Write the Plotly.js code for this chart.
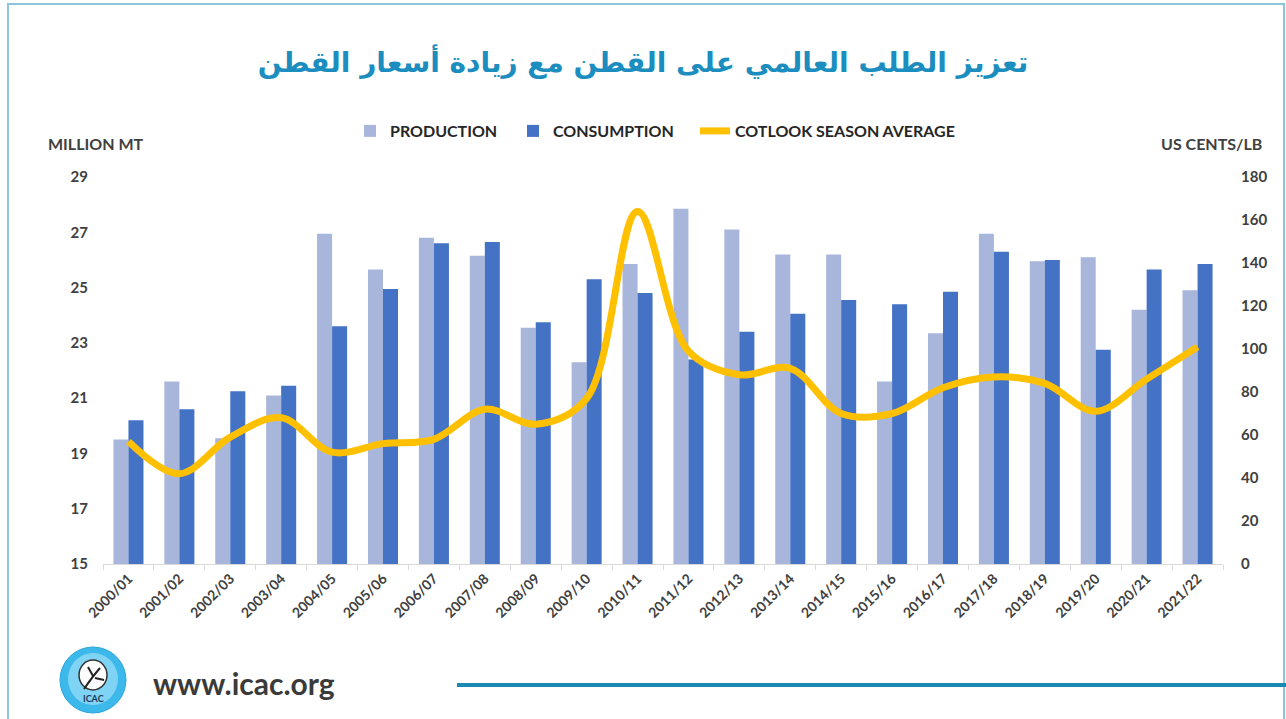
<!DOCTYPE html>
<html>
<head>
<meta charset="utf-8">
<script src="https://cdn.plot.ly/plotly-3.0.1.min.js"></script>
<style>
  html, body { margin: 0; padding: 0; background: #ffffff; }
  #chart { width: 1286px; height: 719px; }
</style>
</head>
<body>
<div id="chart"></div>
<script>
// ---- data ----
const seasons = ["2000/01","2001/02","2002/03","2003/04","2004/05","2005/06","2006/07","2007/08","2008/09","2009/10","2010/11","2011/12","2012/13","2013/14","2014/15","2015/16","2016/17","2017/18","2018/19","2019/20","2020/21","2021/22"];
const production = [19.5, 21.6, 19.55, 21.1, 26.95, 25.65, 26.8, 26.15, 23.55, 22.3, 25.85, 27.85, 27.1, 26.2, 26.2, 21.6, 23.35, 26.95, 25.95, 26.1, 24.2, 24.9];
const consumption = [20.2, 20.6, 21.25, 21.45, 23.6, 24.95, 26.6, 26.65, 23.75, 25.3, 24.8, 22.4, 23.4, 24.05, 24.55, 24.4, 24.85, 26.3, 26.0, 22.75, 25.65, 25.85];
const cotlook = [57, 42, 59, 68, 52, 56, 58, 72, 65, 77, 164, 99, 88, 91, 70, 70, 82, 87, 84, 71, 86, 101];
const seriesNames = ["PRODUCTION", "CONSUMPTION", "COTLOOK SEASON AVERAGE"];
const titleText = "تعزيز الطلب العالمي على القطن مع زيادة أسعار القطن";
const leftAxisTitle = "MILLION MT";
const rightAxisTitle = "US CENTS/LB";
const siteText = "www.icac.org";

// ---- layout helpers (pixel -> paper) ----
const W = 1286, H = 719;
const M = { l: 103, r: 63, t: 177, b: 155 };
const PW = W - M.l - M.r, PH = H - M.t - M.b;
const px = x => (x - M.l) / PW;
const py = y => (H - M.b - y) / PH;

const FONT = "Lato, 'Open Sans', sans-serif";
const yTickFont = { family: FONT, size: 15, color: "#404040", weight: "bold" };
const xTickFont = { family: FONT, size: 14, color: "#404040", weight: "bold" };
const legendFont = { family: FONT, size: 16, color: "#262626", weight: "bold" };

const traces = [
  {
    type: "bar", name: seriesNames[0], x: seasons, y: production,
    marker: { color: "#A9B6DB" }, yaxis: "y", legend: "legend"
  },
  {
    type: "bar", name: seriesNames[1], x: seasons, y: consumption,
    marker: { color: "#4472C4" }, yaxis: "y", legend: "legend2"
  },
  {
    type: "scatter", mode: "lines", name: seriesNames[2], x: seasons, y: cotlook,
    line: { color: "#FFC000", width: 7, shape: "spline", smoothing: 1 }, yaxis: "y2", legend: "legend3"
  }
];

function legendAt(xpix) {
  return {
    orientation: "h",
    x: px(xpix), xanchor: "left",
    y: py(131), yanchor: "middle",
    font: legendFont,
    bgcolor: "rgba(0,0,0,0)",
    itemwidth: 30
  };
}

const layout = {
  width: W, height: H,
  margin: M,
  paper_bgcolor: "#ffffff",
  plot_bgcolor: "rgba(0,0,0,0)",
  barmode: "group",
  bargap: 0.41,
  bargroupgap: 0,
  showlegend: true,
  title: {
    text: titleText,
    font: { family: "'DejaVu Sans', sans-serif", size: 28, color: "#1B8DBE", weight: "bold" },
    x: 0.5, xref: "container", xanchor: "center",
    y: 1 - 62 / H, yref: "container", yanchor: "middle"
  },
  legend: legendAt(350),
  legend2: legendAt(513),
  legend3: legendAt(695),
  xaxis: {
    type: "category",
    tickangle: -45,
    tickfont: xTickFont,
    showgrid: false,
    showline: true, linecolor: "#D9D9D9", linewidth: 1,
    ticks: "outside", tickson: "boundaries", ticklen: 5, tickcolor: "#D9D9D9",
    zeroline: false,
    fixedrange: true
  },
  yaxis: {
    range: [15, 29], dtick: 2, tick0: 15,
    showgrid: false, zeroline: false, showline: false,
    tickfont: yTickFont, ticks: "", ticklabelstandoff: 14,
    fixedrange: true
  },
  yaxis2: {
    overlaying: "y", side: "right",
    range: [0, 180], dtick: 20, tick0: 0,
    showgrid: false, zeroline: false, showline: false,
    tickfont: yTickFont, ticks: "", ticklabelstandoff: 17,
    fixedrange: true
  },
  annotations: [
    { text: leftAxisTitle, xref: "paper", yref: "paper", x: px(95), y: py(143),
      xanchor: "center", yanchor: "middle", showarrow: false,
      font: { family: FONT, size: 16, color: "#404040", weight: "bold" } },
    { text: rightAxisTitle, xref: "paper", yref: "paper", x: px(1211), y: py(143),
      xanchor: "center", yanchor: "middle", showarrow: false,
      font: { family: FONT, size: 16, color: "#404040", weight: "bold" } },
    { text: siteText, xref: "paper", yref: "paper", x: px(151), y: py(683),
      xanchor: "left", yanchor: "middle", showarrow: false,
      font: { family: FONT, size: 30, color: "#3A3A3A", weight: "bold" } },
    { text: "ICAC", xref: "paper", yref: "paper", x: px(93), y: py(698),
      xanchor: "center", yanchor: "middle", showarrow: false,
      font: { family: FONT, size: 9, color: "#1F3A5A", weight: "bold" } }
  ],
  shapes: [
    // outer frame
    { type: "rect", xref: "paper", yref: "paper",
      x0: px(8), x1: px(1284), y0: py(722), y1: py(4),
      line: { color: "#8CC6DC", width: 2 }, fillcolor: "rgba(0,0,0,0)", layer: "below" },
    // bottom teal rule
    { type: "line", xref: "paper", yref: "paper",
      x0: px(457), x1: px(1290), y0: py(685), y1: py(685),
      line: { color: "#1A8AB2", width: 4 } },
    // logo circle
    { type: "circle", xref: "paper", yref: "paper",
      x0: px(60), x1: px(126), y0: py(713), y1: py(647),
      fillcolor: "#3DB8EA", line: { color: "#2AA6DA", width: 1 } },
    { type: "circle", xref: "paper", yref: "paper",
      x0: px(68), x1: px(118), y0: py(705), y1: py(653),
      fillcolor: "#7FD3F4", line: { width: 0 } },
    // cotton boll
    { type: "circle", xref: "paper", yref: "paper",
      x0: px(79), x1: px(107), y0: py(690), y1: py(660),
      fillcolor: "#FFFFFF", line: { color: "#333333", width: 1.5 } },
    { type: "path", xref: "paper", yref: "paper",
      path: `M ${px(84)} ${py(689)} Q ${px(93)} ${py(676)} ${px(100)} ${py(668)} M ${px(93)} ${py(676)} L ${px(88)} ${py(667)} M ${px(95)} ${py(678)} L ${px(104)} ${py(680)}`,
      line: { color: "#222222", width: 2 } }
  ]
};

Plotly.newPlot("chart", traces, layout, { displayModeBar: false, staticPlot: true });
</script>
</body>
</html>
